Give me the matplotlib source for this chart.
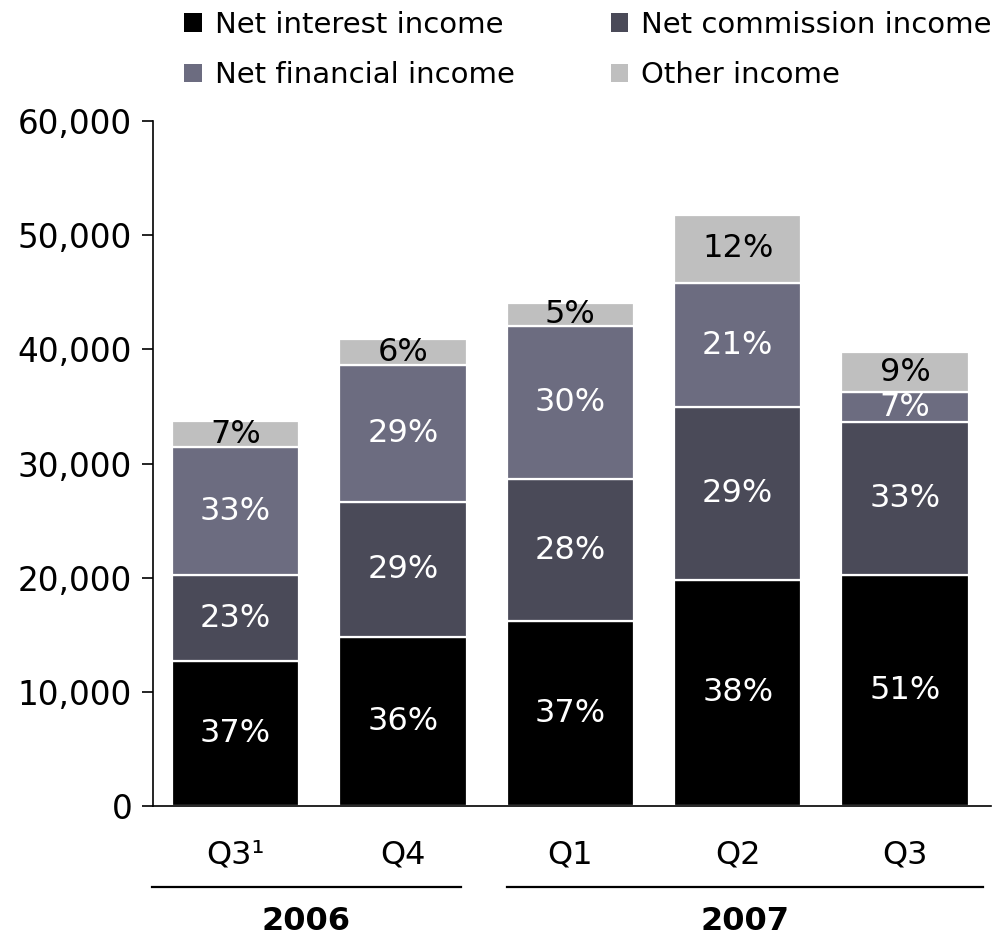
import numpy as np
import matplotlib
matplotlib.use("Agg")
import matplotlib.pyplot as plt
from matplotlib.patches import Patch

plt.rcParams['font.family'] = ['DejaVu Sans']

quarters = ["Q3\u00b9", "Q4", "Q1", "Q2", "Q3"]
years = ["2006", "2007"]

# income components per quarter (MSEK)
interest = [12700, 14800, 16200, 19800, 20230]
commission = [7530, 11830, 12440, 15150, 13400]
financial = [11210, 12000, 13400, 10860, 2630]
other = [2280, 2270, 2020, 5960, 3510]

# share of total income, as printed in the bars
pct_interest = ["37%", "36%", "37%", "38%", "51%"]
pct_commission = ["23%", "29%", "28%", "29%", "33%"]
pct_financial = ["33%", "29%", "30%", "21%", "7%"]
pct_other = ["7%", "6%", "5%", "12%", "9%"]

series = [
    ("Net interest income", interest, pct_interest, "#000000", "white"),
    ("Net commission income", commission, pct_commission, "#4a4a58", "white"),
    ("Net financial income", financial, pct_financial, "#6c6c80", "white"),
    ("Other income", other, pct_other, "#bfbfbf", "black"),
]

fig = plt.figure(figsize=(10.02, 9.38), dpi=100)
ax = fig.add_axes([0.1527, 0.1407, 0.8363, 0.7303])

x = np.arange(len(quarters))
bottom = np.zeros(len(quarters))
for name, vals, labels, col, tcol in series:
    vals = np.array(vals, dtype=float)
    ax.bar(x, vals, width=0.76, bottom=bottom, color=col,
           edgecolor="white", linewidth=1.6)
    for xi, b, v, lab in zip(x, bottom, vals, labels):
        ax.text(xi, b + v / 2, lab, ha="center", va="center",
                fontsize=23, color=tcol)
    bottom += vals

ax.set_xlim(-0.493, 4.513)
ax.set_ylim(0, 60000)
ax.set_yticks(np.arange(0, 60001, 10000))
ax.yaxis.set_major_formatter(matplotlib.ticker.FuncFormatter(lambda v, p: f"{int(v):,}"))
ax.tick_params(axis="y", direction="out", length=8, width=1.2, pad=7, labelsize=23.5)
ax.set_xticks([])
for s in ["top", "right"]:
    ax.spines[s].set_visible(False)
ax.spines["left"].set_linewidth(1.2)
ax.spines["bottom"].set_linewidth(1.2)

# quarter labels, year brackets
tr = ax.get_xaxis_transform()
for xi, q in zip(x, quarters):
    ax.text(xi, -0.0715, q, transform=tr, ha="center", va="center",
            fontsize=23, clip_on=False)

spans = [(-0.5, 1.347), (1.622, 4.466)]
for (a, b), yr in zip(spans, years):
    ax.plot([a, b], [-0.118, -0.118], transform=tr, color="black",
            linewidth=1.6, clip_on=False)
    ax.text((a + b) / 2, -0.169, yr, transform=tr, ha="center", va="center",
            fontsize=23, fontweight="bold", clip_on=False)

# legend fills column-wise: interest/commission on the first row
handles = [Patch(facecolor=c, edgecolor="none", label=n) for n, _, _, c, _ in series]
handles = [handles[0], handles[2], handles[1], handles[3]]
fig.legend(handles=handles, loc="upper left", bbox_to_anchor=(0.172, 1.001),
           ncol=2, frameon=False, fontsize=21, handlelength=0.6,
           handleheight=0.6, handletextpad=0.45, columnspacing=3.3,
           labelspacing=0.78, borderaxespad=0)

fig.savefig("out.png", dpi=100)
